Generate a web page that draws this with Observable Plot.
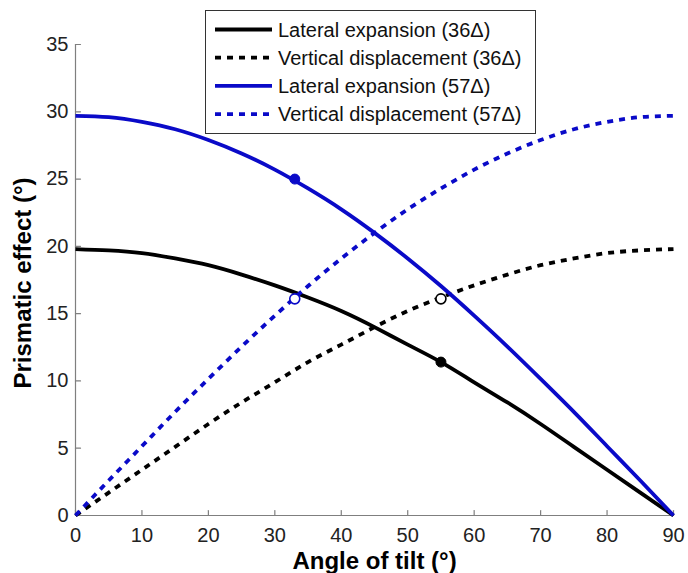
<!DOCTYPE html>
<html>
<head>
<meta charset="utf-8">
<script src="https://cdn.jsdelivr.net/npm/d3@7"></script>
<script src="https://cdn.jsdelivr.net/npm/@observablehq/plot@0.6"></script>
<style>
  body { margin: 0; background: #fff; }
  #chart svg { display: block; }
</style>
</head>
<body>
<div id="chart"></div>
<script>
// ---- data ----
const angles      = [0, 5, 10, 15, 20, 25, 30, 35, 40, 45, 50, 55, 60, 65, 70, 75, 80, 85, 90];
const lateral36   = [19.8, 19.7, 19.5, 19.1, 18.6, 17.9, 17.1, 16.2, 15.2, 14.0, 12.7, 11.4, 9.9, 8.4, 6.8, 5.1, 3.4, 1.7, 0];
const vertical36  = [0, 1.7, 3.4, 5.1, 6.8, 8.4, 9.9, 11.4, 12.7, 14.0, 15.2, 16.2, 17.1, 17.9, 18.6, 19.1, 19.5, 19.7, 19.8];
const lateral57   = [29.7, 29.6, 29.25, 28.7, 27.9, 26.9, 25.7, 24.3, 22.75, 21.0, 19.1, 17.05, 14.85, 12.55, 10.15, 7.7, 5.15, 2.6, 0];
const vertical57  = [0, 2.6, 5.15, 7.7, 10.15, 12.55, 14.85, 17.05, 19.1, 21.0, 22.75, 24.3, 25.7, 26.9, 27.9, 28.7, 29.25, 29.6, 29.7];

const seriesNames = ["Lateral expansion (36\u0394)", "Vertical displacement (36\u0394)", "Lateral expansion (57\u0394)", "Vertical displacement (57\u0394)"];
const seriesColors = ["#000000", "#000000", "#0a0ac8", "#0a0ac8"];
const seriesDashed = [false, true, false, true];

const markerAngles   = [33, 55];
const markerLateral  = [25.0, 11.4];
const markerVertical = [16.1, 16.1];
const markerColors   = ["#0a0ac8", "#000000"];

const xTicks = [0, 10, 20, 30, 40, 50, 60, 70, 80, 90];
const yTicks = [0, 5, 10, 15, 20, 25, 30, 35];
const xLabel = "Angle of tilt (\u00b0)";
const yLabel = "Prismatic effect (\u00b0)";

// ---- build tables ----
const seriesValues = [lateral36, vertical36, lateral57, vertical57];
const lines = seriesValues.map((vals, s) => angles.map((a, i) => ({angle: a, value: vals[i], s})));
const markers = markerAngles.map((a, i) => ({angle: a, lat: markerLateral[i], vert: markerVertical[i], color: markerColors[i]}));

const tickShape = { draw(context, l) { context.moveTo(0, 0); context.lineTo(0, -l); } };
const axisGray = "#7f7f7f";
const font = "'Liberation Sans', Arial, Helvetica, sans-serif";

const lineMarks = lines.map((data, s) => Plot.line(data, {
  x: "angle", y: "value", curve: "natural",
  stroke: seriesColors[s], strokeWidth: 3.8,
  strokeDasharray: seriesDashed[s] ? "6,6" : null,
  strokeLinecap: "butt"
}));

const chart = Plot.plot({
  width: 688,
  height: 573,
  marginLeft: 75,
  marginRight: 15,
  marginTop: 44,
  marginBottom: 58,
  style: { fontFamily: font, background: "#fff", color: "#000" },
  x: { domain: [0, 90], ticks: xTicks },
  y: { domain: [0, 35], ticks: yTicks },
  marks: [
    Plot.axisX(xTicks, { tickSize: 0, tickPadding: 12, fontSize: 20, label: null, color: "#222" }),
    Plot.axisY(yTicks, { tickSize: 0, tickPadding: 7, fontSize: 20, label: null, color: "#222" }),
    Plot.ruleX([0], { stroke: axisGray, strokeWidth: 1.2 }),
    Plot.ruleY([0], { stroke: axisGray, strokeWidth: 1.2 }),
    Plot.vector(xTicks, { x: d => d, frameAnchor: "bottom", length: 5, anchor: "start", shape: tickShape, stroke: axisGray, strokeWidth: 1.2 }),
    Plot.vector(yTicks, { y: d => d, frameAnchor: "left", length: 5, rotate: 90, anchor: "start", shape: tickShape, stroke: axisGray, strokeWidth: 1.2 }),
    ...lineMarks,
    Plot.dot(markers, { x: "angle", y: "lat", r: 5, fill: "color", stroke: "color", strokeWidth: 1 }),
    Plot.dot(markers, { x: "angle", y: "vert", r: 5, fill: "#fff", stroke: "color", strokeWidth: 1.6 }),
    Plot.text([xLabel], { frameAnchor: "bottom", lineAnchor: "middle", textAnchor: "middle", dy: 46, fontSize: 24, fontWeight: "bold", fill: "#000" }),
    Plot.text([yLabel], { frameAnchor: "left", lineAnchor: "middle", textAnchor: "middle", dx: -52, dy: 3, rotate: -90, fontSize: 24, fontWeight: "bold", fill: "#000" })
  ]
});

document.getElementById("chart").appendChild(chart);

// ---- legend (inside the plot area, top centre) ----
const svg = d3.select(chart);
const lg = svg.append("g").attr("class", "legend");
const box = { x: 205, y: 10, w: 330, h: 123 };
lg.append("rect").attr("x", box.x + 0.5).attr("y", box.y + 0.5).attr("width", box.w).attr("height", box.h)
  .attr("fill", "#fff").attr("stroke", "#333").attr("stroke-width", 1);
seriesNames.forEach((name, i) => {
  const cy = 29.5 + i * 28.2;
  lg.append("line").attr("x1", 215).attr("x2", 272).attr("y1", cy).attr("y2", cy)
    .attr("stroke", seriesColors[i]).attr("stroke-width", 3.8)
    .attr("stroke-dasharray", seriesDashed[i] ? "6,6" : null);
  lg.append("text").attr("x", 278).attr("y", cy).attr("dy", "0.35em")
    .attr("text-anchor", "start")
    .attr("font-family", font).attr("font-size", 20).attr("fill", "#111").text(name);
});
</script>
</body>
</html>
